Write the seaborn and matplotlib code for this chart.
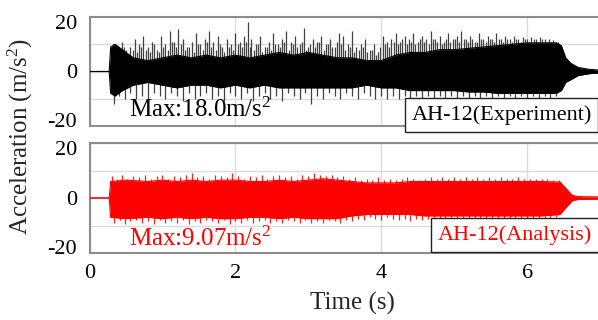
import matplotlib
matplotlib.use('Agg')
import matplotlib.pyplot as plt
import matplotlib.transforms as mtransforms
import seaborn as sns
import numpy as np

# core envelope of the dense band
black_env_t = [0, 0.27, 0.29, 0.35, 0.45, 0.6, 0.8, 1.0, 1.2, 1.4, 1.6, 1.8, 2.0, 2.2, 2.4, 2.6, 2.8,
               3.0, 3.2, 3.4, 3.6, 3.8, 4.0, 4.2, 4.4, 4.6, 4.8, 5.0, 5.2, 5.4, 5.6, 5.8, 6.0, 6.2,
               6.4, 6.47, 6.53, 6.6, 6.7, 6.85, 7.0]
black_env_up = [0, 0, 9, 10, 8, 5, 4, 5, 6, 5, 6, 5, 6, 5, 6, 7, 6,
                7, 6, 5, 5, 4, 4, 6, 7, 7, 8, 8, 8.5, 9, 9.5, 10, 10.5, 10.5,
                10.5, 9.5, 5, 3, 1.5, 0.8, 0.5]
black_env_low = [0, 0, -8, -9, -7, -5, -4, -5, -6, -5, -5, -6, -5, -6, -5, -6, -6,
                 -6, -6, -6, -6, -5, -6, -6, -7, -7, -7, -7, -7.5, -7.5, -8, -8, -8, -8,
                 -8, -7, -4, -3, -1.5, -0.8, -0.5]

red_env_t = [0, 0.27, 0.29, 0.5, 0.8, 1.0, 1.2, 1.4, 1.6, 1.8, 2.0, 2.2, 2.4, 2.6, 2.8, 3.0,
             3.2, 3.4, 3.6, 3.8, 4.0, 4.2, 4.4, 4.6, 4.8, 5.0, 5.2, 5.4, 5.6, 5.8, 6.0, 6.2,
             6.45, 6.55, 6.62, 6.7, 7.0]
red_env_up = [0, 0, 6, 6.5, 6, 6.5, 6, 6.5, 6, 6.5, 6.5, 6, 6, 6.5, 6, 6.5,
              7, 6.5, 6, 5.5, 5.5, 5.5, 6, 6, 6, 6, 6, 6, 6, 6, 6, 6,
              5.8, 3, 1, 0.5, 0.4]
red_env_low = [0, 0, -7, -7.5, -7, -7.5, -7, -7.5, -7, -7.5, -7.5, -7, -7, -7.5, -7, -7.5,
               -7.5, -7.5, -6.5, -6, -6, -6, -6, -6.5, -6.5, -6.5, -6.5, -6.5, -6.5, -6.5, -6.5, -6.5,
               -6, -3, -1, -0.5, -0.4]

# tall spikes sticking out of the band
black_up_t = [0.32, 0.38, 0.44, 0.50, 0.56, 0.62, 0.68, 0.74, 0.80, 0.86, 0.92, 0.98, 1.04, 1.10, 1.16,
              1.22, 1.28, 1.34, 1.40, 1.46, 1.52, 1.58, 1.64, 1.70, 1.76, 1.82, 1.88, 1.94, 2.00, 2.06,
              2.12, 2.17, 2.22, 2.28, 2.34, 2.40, 2.46, 2.52, 2.58, 2.64, 2.70, 2.76, 2.82, 2.88, 2.94,
              3.00, 3.06, 3.12, 3.18, 3.24, 3.30, 3.36, 3.42, 3.48, 3.54, 3.60, 3.66, 3.72, 3.78, 3.84,
              3.90, 3.96, 4.02, 4.08, 4.14, 4.20, 4.26, 4.32, 4.38, 4.44, 4.50, 4.56, 4.62, 4.68, 4.74,
              4.80, 4.86, 4.92, 4.98, 5.04, 5.10, 5.16, 5.22, 5.28, 5.34, 5.40, 5.46, 5.52, 5.58, 5.64,
              5.70, 5.76, 5.82, 5.88, 5.94, 6.00, 6.06, 6.12, 6.18, 6.24, 6.30, 6.36, 6.42]
black_up_v = [10, 9, 11, 8, 9, 12, 10, 13, 9, 11, 8, 13, 10, 15, 11,
              15.5, 12, 9, 11, 14, 10, 12, 15, 11, 13, 9, 12, 10, 14, 11,
              13, 18, 12, 10, 13, 9, 11, 14, 10, 12, 15, 11, 13, 10, 16,
              9, 12, 11, 13, 10, 12, 9, 14, 13, 10, 15, 9, 10, 12, 8,
              10, 7, 13, 11, 12, 14, 11, 13, 12, 14, 11, 13, 12, 15, 12,
              13, 11, 14, 12, 13, 15, 12, 13, 11, 14, 12, 13, 12, 14, 12,
              13, 12, 13, 12, 12.5, 12, 12.5, 12, 12.5, 12, 12, 11.5, 11]
# smaller spikes in between
black_mid_t = [0.35, 0.41, 0.47, 0.53, 0.59, 0.65, 0.71, 0.77, 0.83, 0.89, 0.95, 1.01, 1.07, 1.13, 1.19,
               1.25, 1.31, 1.37, 1.43, 1.49, 1.55, 1.61, 1.67, 1.73, 1.79, 1.85, 1.91, 1.97, 2.03, 2.09,
               2.15, 2.20, 2.25, 2.31, 2.37, 2.43, 2.49, 2.55, 2.61, 2.67, 2.73, 2.79, 2.85, 2.91, 2.97,
               3.03, 3.09, 3.15, 3.21, 3.27, 3.33, 3.39, 3.45, 3.51, 3.57, 3.63, 3.69, 3.75, 3.81, 3.87,
               3.93, 3.99, 4.05, 4.11, 4.17, 4.23, 4.29, 4.35, 4.41, 4.47, 4.53, 4.59, 4.65, 4.71, 4.77,
               4.83, 4.89, 4.95, 5.01, 5.07, 5.13, 5.19, 5.25, 5.31, 5.37, 5.43, 5.49, 5.55, 5.61, 5.67,
               5.73, 5.79, 5.85, 5.91, 5.97, 6.03, 6.09, 6.15, 6.21, 6.27, 6.33, 6.39]
black_mid_v = [8, 7, 9, 6, 8, 7, 9, 8, 7, 10, 7, 9, 8, 11, 9,
               10, 8, 9, 7, 10, 8, 11, 9, 8, 10, 7, 9, 8, 10, 9,
               11, 9, 8, 10, 7, 9, 8, 10, 9, 11, 8, 10, 9, 11, 8,
               10, 9, 11, 8, 10, 9, 11, 10, 8, 9, 7, 8, 9, 7, 8,
               6, 9, 10, 9, 11, 10, 12, 10, 11, 10, 12, 11, 10, 12, 11,
               10, 12, 11, 12, 11, 12, 11, 12, 11, 12, 11, 12, 11, 12, 11,
               12, 11, 12, 11, 12, 11, 12, 11, 12, 11, 11, 11]
black_dn_t = [0.33, 0.40, 0.48, 0.56, 0.64, 0.72, 0.80, 0.88, 0.96, 1.04, 1.12, 1.20, 1.28, 1.36, 1.44,
              1.52, 1.60, 1.68, 1.76, 1.84, 1.92, 2.00, 2.08, 2.16, 2.24, 2.32, 2.40, 2.48, 2.56, 2.64,
              2.72, 2.80, 2.88, 2.96, 3.04, 3.12, 3.20, 3.28, 3.36, 3.44, 3.52, 3.60, 3.68, 3.76, 3.84,
              3.92, 4.00, 4.08, 4.16, 4.24, 4.32, 4.40, 4.48, 4.56, 4.64, 4.72, 4.80, 4.88, 4.96, 5.04,
              5.12, 5.20, 5.28, 5.36, 5.44, 5.52, 5.60, 5.68, 5.76, 5.84, 5.92, 6.00, 6.08, 6.16, 6.24,
              6.32, 6.40]
black_dn_v = [-12, -9, -10, -8, -10, -9, -11, -8, -9, -10, -8, -9, -11, -8, -10,
              -9, -8, -10, -9, -11, -8, -9, -10, -8, -11, -9, -8, -10, -9, -11,
              -8, -9, -10, -8, -12, -9, -10, -8, -9, -10, -8, -9, -10, -8, -9,
              -10, -9, -10, -9, -10, -9, -10, -9, -10, -9, -10, -9, -10, -9, -10,
              -9, -10, -9, -10, -9, -10, -9, -10, -9, -10, -9, -10, -9, -10, -9,
              -10, -9]

red_up_t = [0.31, 0.38, 0.45, 0.52, 0.60, 0.68, 0.76, 0.84, 0.92, 1.00, 1.08, 1.16, 1.24, 1.32, 1.40,
            1.48, 1.56, 1.64, 1.72, 1.80, 1.88, 1.96, 2.04, 2.12, 2.20, 2.28, 2.36, 2.44, 2.52, 2.60,
            2.68, 2.76, 2.84, 2.92, 3.00, 3.08, 3.16, 3.24, 3.32, 3.40, 3.48, 3.56, 3.64, 3.72, 3.80,
            3.88, 3.96, 4.04, 4.12, 4.20, 4.28, 4.36, 4.44, 4.52, 4.60, 4.68, 4.76, 4.84, 4.92, 5.00,
            5.08, 5.16, 5.24, 5.32, 5.40, 5.48, 5.56, 5.64, 5.72, 5.80, 5.88, 5.96, 6.04, 6.12, 6.20,
            6.28, 6.36, 6.44]
red_up_v = [8, 7, 8.5, 7, 8, 7.5, 8.5, 7, 8, 8.5, 7, 8, 7.5, 8.5, 9,
            7.5, 8, 7, 8.5, 8, 7.5, 9, 8, 7, 8, 7.5, 8.5, 7, 8, 8.5,
            7.5, 8, 7, 8.5, 8, 9, 8.5, 8, 8.5, 7.5, 8, 7, 7.5, 6.5, 7,
            6.5, 7.5, 6.5, 7, 6.5, 7, 7.5, 7, 6.5, 7, 7.5, 7, 7.5, 7, 7.5,
            7, 7.5, 7, 7.5, 7, 7.5, 7, 7.5, 7, 7, 7.5, 7, 7, 7, 7,
            7, 6.5, 6.5]
red_dn_t = [0.34, 0.42, 0.49, 0.56, 0.64, 0.72, 0.80, 0.88, 0.96, 1.04, 1.12, 1.20, 1.28, 1.36, 1.44,
            1.52, 1.60, 1.68, 1.76, 1.84, 1.92, 2.00, 2.08, 2.16, 2.24, 2.32, 2.40, 2.48, 2.56, 2.64,
            2.72, 2.80, 2.88, 2.96, 3.04, 3.12, 3.20, 3.28, 3.36, 3.44, 3.52, 3.60, 3.68, 3.76, 3.84,
            3.92, 4.00, 4.08, 4.16, 4.24, 4.32, 4.40, 4.48, 4.56, 4.64, 4.72, 4.80, 4.88, 4.96, 5.04,
            5.12, 5.20, 5.28, 5.36, 5.44, 5.52, 5.60, 5.68, 5.76, 5.84, 5.92, 6.00, 6.08, 6.16, 6.24,
            6.32, 6.40]
red_dn_v = [-9, -8, -9.5, -8.5, -8, -9, -8.5, -9.5, -8, -9, -8.5, -9, -8, -9.5, -8.5,
            -9, -8, -8.5, -9, -8, -9.5, -8.5, -9, -8, -9, -8.5, -8, -9, -8.5, -9,
            -8, -8.5, -9, -8, -9, -8.5, -9, -8, -8.5, -9, -8, -8.5, -7.5, -8, -7,
            -7.5, -8, -7, -7.5, -8, -7.5, -8.5, -7.5, -8, -7.5, -8, -7.5, -8, -7.5, -8,
            -7.5, -8, -7.5, -8, -7.5, -8, -7.5, -8, -7.5, -8, -7.5, -8, -7.5, -8, -7.5,
            -7.5, -7]

x_ticks = [0, 2, 4, 6]
y_ticks = [-20, -10, 0, 10, 20]
y_ticklabels = ['-20', '', '0', '', '20']

sns.set_theme(style='white')
plt.rcParams['font.family'] = ['Liberation Serif', 'DejaVu Serif']
plt.rcParams['mathtext.fontset'] = 'custom'
plt.rcParams['mathtext.rm'] = 'Liberation Serif'
plt.rcParams['mathtext.default'] = 'regular'
grey = '#8c8c8c'
fs = 18
tick_fs = 16

fig = plt.figure(figsize=(5.98, 3.2), dpi=100)
ax1 = fig.add_axes([89.5/598, 1-126/320, (600-89.5)/598, 109/320])
ax2 = fig.add_axes([89.5/598, 1-253/320, (600-89.5)/598, 110/320])


def draw_panel(ax, env_t, env_up, env_low, spikes, color, spike_color):
    ax.fill_between(env_t, env_low, env_up, color=color, lw=0, zorder=3)
    sns.lineplot(x=env_t, y=env_up, ax=ax, color=color, lw=0.8, zorder=3)
    sns.lineplot(x=env_t, y=env_low, ax=ax, color=color, lw=0.8, zorder=3)
    for st, sv in spikes:
        ax.vlines(st, 0, sv, color=spike_color, lw=0.9, zorder=2)
    ax.set_xlim(0, 7)
    ax.set_ylim(-20, 20)
    ax.set_xticks(x_ticks)
    ax.set_yticks(y_ticks)
    ax.set_yticklabels(y_ticklabels)
    ax.grid(True, color='#dcdcdc', lw=1)
    ax.set_axisbelow(True)
    for side in ['top', 'left', 'bottom', 'right']:
        ax.spines[side].set_color(grey)
        ax.spines[side].set_linewidth(1.5)
    ax.tick_params(axis='y', direction='in', length=7, color=grey, width=1.2,
                   labelsize=tick_fs, pad=9, labelcolor='black')
    ax.tick_params(axis='x', length=0, labelsize=tick_fs, pad=8, labelcolor='black')
    ax.set_xlabel('')
    ax.set_ylabel('')
    # the end labels sit a little inside the frame, as in the original
    labels = ax.get_yticklabels()
    up = mtransforms.ScaledTranslation(0, 4.5/72, fig.dpi_scale_trans)
    down = mtransforms.ScaledTranslation(0, -3.5/72, fig.dpi_scale_trans)
    labels[0].set_transform(labels[0].get_transform() + up)
    labels[-1].set_transform(labels[-1].get_transform() + down)


draw_panel(ax1, black_env_t, black_env_up, black_env_low,
           [(black_up_t, black_up_v), (black_mid_t, black_mid_v), (black_dn_t, black_dn_v)],
           'black', '#404040')
draw_panel(ax2, red_env_t, red_env_up, red_env_low,
           [(red_up_t, red_up_v), (red_dn_t, red_dn_v)], '#ff0000', '#ff2020')
ax1.set_xticklabels([])

fig.text(129/598, 1-110/320, r'Max:18.0m/s$^2$', fontsize=fs, color='black', ha='left', va='center')
fig.text(129/598, 1-239/320, r'Max:9.07m/s$^2$', fontsize=fs, color='#ff0000', ha='left', va='center')

box = dict(boxstyle='square,pad=0.3', facecolor='white', edgecolor='#222222', lw=1)
fig.text(501.5/598, 1-115/320, 'AH-12(Experiment)', fontsize=16, color='black',
         ha='center', va='center', bbox=box, zorder=10)
fig.text(515/598, 1-235/320, 'AH-12(Analysis)', fontsize=16, color='#ff0000',
         ha='center', va='center', bbox=box, zorder=10)

fig.text(20/598, 1-136/320, r'Acceleration (m/s$^2$)', fontsize=fs, rotation=90,
         ha='center', va='center')
fig.text(352/598, 1-303/320, 'Time (s)', fontsize=fs, ha='center', va='center')

fig.savefig('out.png', dpi=100)
